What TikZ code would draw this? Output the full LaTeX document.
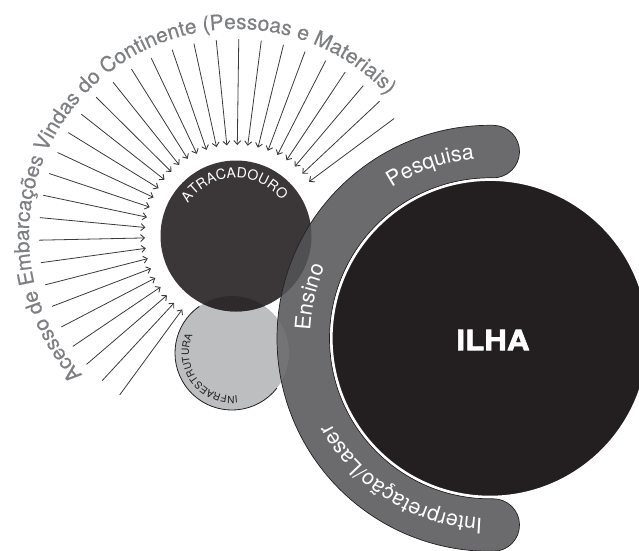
\documentclass[tikz,border=0pt]{standalone}
\usepackage{fontspec}
\setmainfont{TeX Gyre Heros}
\usetikzlibrary{calc,decorations.text,arrows.meta}

\definecolor{ilhaC}{HTML}{231F20}
\definecolor{bandC}{HTML}{6B6B6D}
\definecolor{atrC}{HTML}{3B3738}
\definecolor{infraC}{HTML}{BCBEC0}
\definecolor{atrBand}{HTML}{505052}
\definecolor{infraBand}{HTML}{747476}
\definecolor{atrInfra}{HTML}{2E2A2B}
\definecolor{arcTextC}{HTML}{7D7F82}
\definecolor{arrowC}{HTML}{3A3A3B}

\newfontfamily\arcfam[FakeBold=0.4]{TeX Gyre Heros}
\newfontfamily\heavyfont[FakeBold=2.2]{TeX Gyre Heros Bold}
\newcommand\bandfont{\fontsize{21.5}{24}\selectfont}
\newcommand\arcfont{\arcfam\fontsize{21}{24}\selectfont}
\newcommand\atrfont{\fontsize{14}{16}\selectfont}
\newcommand\infrafont{\fontsize{10}{12}\selectfont}

\begin{document}
\begin{tikzpicture}[x=1pt,y=1pt,
  arrowline/.style={draw=arrowC, line width=0.8pt,
    -{Straight Barb[length=3.8pt,width=7pt,line width=0.9pt]}},
  bandlabel/.style={decorate, decoration={text along path, text align=center,
    text color=white}},
  outline/.style={draw=ilhaC, line width=0.7pt}]
\useasboundingbox (0,0) rectangle (639,550);
\clip (0,0) rectangle (639,550);

% centres of the three circles
\coordinate (I) at (490,211.7);
\coordinate (A) at (236,314);
\coordinate (F) at (232,197);

% the curved band around the island, with round ends
\path[save path=\bandp] ($(I)+(89:213pt)$)
  arc[start angle=89,end angle=271,radius=213pt]
  arc[start angle=271,end angle=451,radius=26.25pt]
  arc[start angle=271,end angle=89,radius=160.5pt]
  arc[start angle=269,end angle=449,radius=26.25pt] -- cycle;

% infrastructure and mooring circles
\fill[infraC] (F) circle[radius=57pt];
\fill[atrC] (A) circle[radius=75.5pt];
\begin{scope}
  \clip (A) circle[radius=75.5pt];
  \fill[atrInfra] (F) circle[radius=57pt];
\end{scope}

% band and its overlaps
\fill[bandC, use path=\bandp];
\begin{scope}
  \clip[use path=\bandp];
  \fill[atrBand] (A) circle[radius=75.5pt];
  \fill[infraBand] (F) circle[radius=57pt];
\end{scope}
\path[outline, use path=\bandp];

% island
\fill[ilhaC] (I) circle[radius=158.5pt];
\draw[white, line width=2.2pt] (I) circle[radius=158.5pt];
\node[text=white, font=\heavyfont\fontsize{28}{30}\selectfont] (ilha) at (493,210)
  {\scalebox{1.12}[1]{ILHA}};

% partial rim of the infrastructure circle
\draw[outline, line width=0.8pt] ($(F)+(125:57pt)$)
  arc[start angle=125,end angle=322,radius=57pt];

% labels along the band
\begin{scope}[shift={(I)}]
  \path[bandlabel, decoration={text={|\bandfont|Pesquisa}}]
    (140:180pt) arc[start angle=140,end angle=78,radius=180pt];
  \path[bandlabel, decoration={text={|\bandfont|Ensino}}]
    (200:180pt) arc[start angle=200,end angle=134,radius=180pt];
  \path[bandlabel, decoration={text={|\bandfont|Interpretação/Laser}}]
    (280:180pt) arc[start angle=280,end angle=196,radius=180pt];
\end{scope}

% labels inside the circles
\begin{scope}[shift={(A)}]
  \path[decorate, decoration={text along path, text align=center,
      text color=white, text={|\atrfont|ATRACADOURO}}]
    (160:58pt) arc[start angle=160,end angle=24,radius=58pt];
\end{scope}
\begin{scope}[shift={(F)}]
  \path[decorate, decoration={text along path, text align=center,
      text color=ilhaC, text={|\infrafont|INFRAESTRUTURA}}]
    (290:43pt) arc[start angle=290,end angle=143,radius=43pt];
\end{scope}

% outer caption and incoming arrows
\begin{scope}[shift={(A)}]
  \path[decorate, decoration={text along path, text align=center,
      text color=arcTextC,
      text={|\arcfont|Acesso de Embarcações Vindas do Continente (Pessoas e Materiais)}}]
    (230:207pt) arc[start angle=230,end angle=35,radius=207pt];
  \foreach \i in {0,...,30} {
    \pgfmathsetmacro\ang{233.8-\i*6.573}
    \coordinate (t\i) at (\ang:197pt);
    \coordinate (h\i) at (\ang:91pt);
    \draw[arrowline] (t\i) -- (h\i);
  }
\end{scope}
\end{tikzpicture}
\end{document}
